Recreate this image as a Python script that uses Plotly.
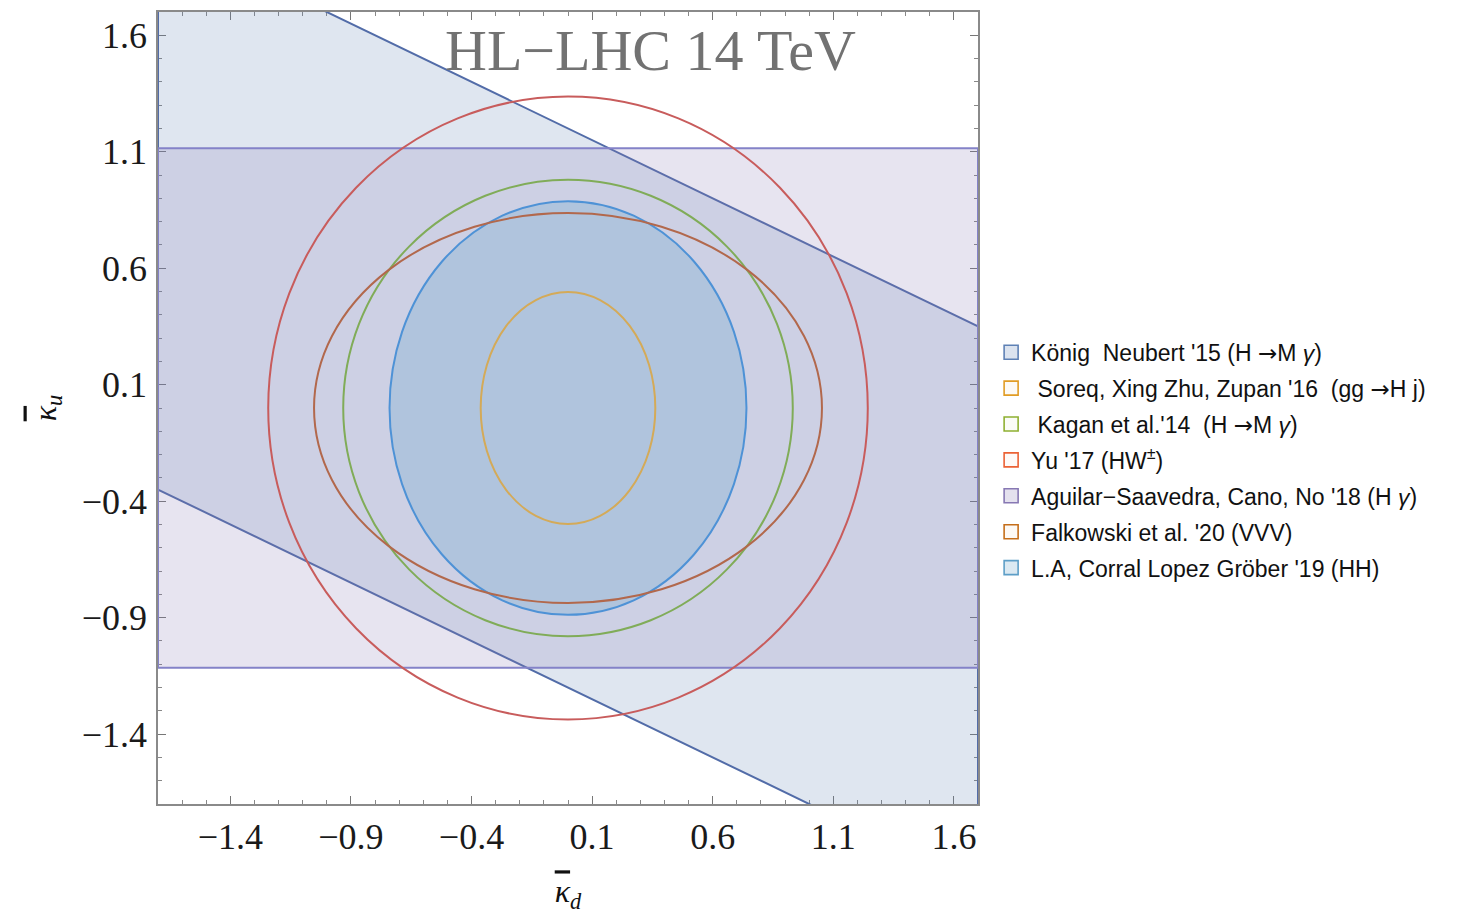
import plotly.graph_objects as go

# ---- axis window ----
x_range = [-1.7, 1.7]
y_range = [-1.7, 1.7]
tick_start = -1.4
tick_step = 0.5

# ---- König, Neubert '15: diagonal band  c_lo <= y + 0.5 x <= c_hi ----
kn_slope = -0.5
kn_c_hi = 1.2
kn_c_lo = -1.2

# ---- Aguilar-Saavedra, Cano, No '18: horizontal band ----
as_lo = -1.115
as_hi = 1.115

# ---- elliptical bounds, centred on the origin (semi-axes in kappa_d, kappa_u) ----
ell_keys = ["soreq", "kagan", "yu", "falkowski", "la"]
ell_ax = [0.362, 0.932, 1.243, 1.053, 0.740]
ell_ay = [0.498, 0.980, 1.337, 0.837, 0.888]
ell_cx = [0.0, 0.0, 0.0, 0.0, 0.0]
ell_cy = [0.0, 0.0, 0.0, 0.0, 0.0]

# ---- legend ----
ARROW = "<span style=\"font-family:DejaVu Sans\">\u2192</span>"
legend_labels = [
    f"König\u00a0\u00a0Neubert '15 (H {ARROW}M <i>\u03b3</i>)",
    f"\u00a0Soreq, Xing Zhu, Zupan '16\u00a0\u00a0(gg {ARROW}H j)",
    f"\u00a0Kagan et al.'14\u00a0\u00a0(H {ARROW}M <i>\u03b3</i>)",
    "Yu '17 (HW<sup>\u00b1</sup>)",
    "Aguilar\u2212Saavedra, Cano, No '18 (H <i>\u03b3</i>)",
    "Falkowski et al. '20 (VVV)",
    "L.A, Corral Lopez Gröber '19 (HH)",
]
legend_edge = ["#5e81b5", "#e19c24", "#8fb032", "#eb6235", "#8778b3", "#c56e1a", "#5d9ec7"]
legend_face = ["#dbe3ef", "#fdfaf5", "#fbfcf7", "#fefaf8", "#e4e1ee", "#fdf9f5", "#dbe9f2"]

# ---- styles ----
ell_line = {
    "soreq": "rgba(212,170,88,1)",
    "kagan": "rgba(128,172,88,1)",
    "yu": "rgba(200,92,92,1)",
    "falkowski": "rgba(178,104,76,1)",
    "la": "rgba(78,146,214,1)",
}
la_fill = "rgba(93,158,199,0.25)"
kn_fill = "rgba(94,129,181,0.2)"
kn_line = "rgba(82,108,168,1)"
as_fill = "rgba(135,120,179,0.2)"
as_line = "rgba(132,130,200,1)"

serif = "Liberation Serif, Times New Roman, serif"
sans = "Liberation Sans, Arial, sans-serif"

fig = go.Figure()

# legend entries (square swatches)
for lab, edge, face in zip(legend_labels, legend_edge, legend_face):
    fig.add_trace(go.Scatter(
        x=[None], y=[None], mode="markers", name=lab,
        marker=dict(symbol="square", size=14, color=face, line=dict(color=edge, width=1.6)),
        legendgroup=lab, hoverinfo="skip",
    ))

shapes = []

# diagonal band, closed across the full x window (clipped to the axes)
x0, x1 = x_range
kn_path = (
    f"M {x0},{kn_c_hi + kn_slope * x0} L {x1},{kn_c_hi + kn_slope * x1} "
    f"L {x1},{kn_c_lo + kn_slope * x1} L {x0},{kn_c_lo + kn_slope * x0} Z"
)
shapes.append(dict(type="path", xref="x", yref="y", path=kn_path,
                   fillcolor=kn_fill, line=dict(color=kn_line, width=2), layer="above"))

# horizontal band
shapes.append(dict(type="rect", xref="x", yref="y", x0=x0, x1=x1, y0=as_lo, y1=as_hi,
                   fillcolor=as_fill, line=dict(color=as_line, width=2), layer="above"))

# filled ellipse first, then the outline-only ones
order = ["la", "soreq", "kagan", "yu", "falkowski"]
for key in order:
    i = ell_keys.index(key)
    shapes.append(dict(
        type="circle", xref="x", yref="y",
        x0=ell_cx[i] - ell_ax[i], x1=ell_cx[i] + ell_ax[i],
        y0=ell_cy[i] - ell_ay[i], y1=ell_cy[i] + ell_ay[i],
        fillcolor=la_fill if key == "la" else "rgba(0,0,0,0)",
        line=dict(color=ell_line[key], width=2), layer="above",
    ))

axis_common = dict(
    autorange=False, showgrid=False, zeroline=False,
    showline=True, linecolor="#8a8a8a", linewidth=1.5, mirror="allticks",
    ticks="inside", ticklen=8, tickwidth=1.2, tickcolor="#777777",
    tick0=tick_start, dtick=tick_step, tickformat=".1f",
    tickfont=dict(family=serif, size=36, color="#1a1a1a"),
    minor=dict(ticks="inside", ticklen=4, tickwidth=1, tickcolor="#888888", dtick=0.1, tick0=tick_start),
)

KAPPA = "<span style=\"text-decoration:overline\"><i>\u03ba</i></span>"

fig.update_layout(
    width=1462, height=915,
    margin=dict(l=158, r=484, t=10, b=111),
    paper_bgcolor="white", plot_bgcolor="white",
    shapes=shapes,
    showlegend=True,
    legend=dict(
        x=1.016, y=0.434, xanchor="left", yanchor="middle",
        font=dict(family=sans, size=23, color="#111111"),
        traceorder="grouped", tracegroupgap=3,
        bgcolor="rgba(0,0,0,0)", itemwidth=30,
    ),
    annotations=[dict(
        text="HL\u2212LHC 14 TeV", xref="paper", yref="paper", x=0.6, y=0.952,
        xanchor="center", yanchor="middle", showarrow=False,
        font=dict(family=serif, size=58, color="#727272"),
    )],
)

fig.update_xaxes(**axis_common, range=x_range,
                 ticklabelstandoff=0,
                 title=dict(text=f"{KAPPA}<sub><i>d</i></sub>",
                            font=dict(family=serif, size=32, color="#111111"), standoff=24))
fig.update_yaxes(**axis_common, range=y_range,
                 ticklabelstandoff=2,
                 title=dict(text=f"{KAPPA}<sub><i>u</i></sub>",
                            font=dict(family=serif, size=32, color="#111111"), standoff=16))

fig.write_html("out.html")
